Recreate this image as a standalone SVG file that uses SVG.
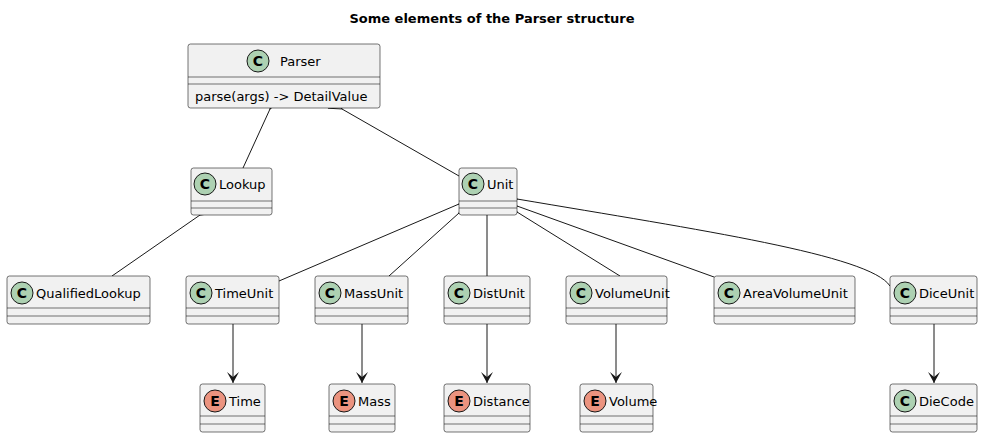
<svg xmlns="http://www.w3.org/2000/svg" width="985" height="438" viewBox="0 0 985 438">
<style>
.box{fill:#F1F1F1;stroke:#181818;stroke-width:0.6}
.sep{stroke:#181818;stroke-width:0.6}
.t{font-family:"DejaVu Sans",sans-serif;font-size:13px;fill:#000}
.ic{stroke:#181818;stroke-width:1}
.c{fill:#ADD1B2}.e{fill:#EB937F}
.il{font-family:"DejaVu Sans",sans-serif;font-size:14px;font-weight:bold;fill:#000;text-anchor:middle}
.ln{fill:none;stroke:#181818;stroke-width:1}
</style>
<defs>
<marker id="tri" markerWidth="14" markerHeight="14" refX="1" refY="7" orient="auto-start-reverse" markerUnits="userSpaceOnUse"><path d="M13,1 L1,7 L13,13 Z" fill="#fff" stroke="#181818" stroke-width="1"/></marker>
<marker id="arr" markerWidth="14" markerHeight="14" refX="12" refY="6" orient="auto" markerUnits="userSpaceOnUse"><path d="M1,0 L12,6 L1,12 L6,6 Z" fill="#181818"/></marker>
</defs>
<rect width="985" height="438" fill="#fff"/>
<text x="492" y="23" text-anchor="middle" style="font-family:'DejaVu Sans',sans-serif;font-size:13px;font-weight:bold">Some elements of the Parser structure</text>

<g id="connectors">
<line class="ln" x1="270" y1="109" x2="243" y2="168" marker-start="url(#tri)"/>
<line class="ln" x1="342" y1="109" x2="459" y2="176" marker-start="url(#tri)"/>
<line class="ln" x1="200" y1="215" x2="112" y2="276" marker-start="url(#tri)"/>
<line class="ln" x1="459" y1="204" x2="279" y2="281" marker-start="url(#tri)"/>
<line class="ln" x1="459" y1="213" x2="389" y2="276" marker-start="url(#tri)"/>
<line class="ln" x1="487" y1="215" x2="487" y2="276" marker-start="url(#tri)"/>
<line class="ln" x1="517" y1="212" x2="620" y2="276" marker-start="url(#tri)"/>
<line class="ln" x1="517" y1="206" x2="714" y2="277" marker-start="url(#tri)"/>
<path class="ln" d="M517,199 C700,230 870,255 890,286" marker-start="url(#tri)"/>
<line class="ln" x1="233" y1="324" x2="233" y2="383" marker-end="url(#arr)"/>
<line class="ln" x1="362" y1="324" x2="362" y2="383" marker-end="url(#arr)"/>
<line class="ln" x1="487" y1="324" x2="487" y2="383" marker-end="url(#arr)"/>
<line class="ln" x1="616" y1="324" x2="616" y2="383" marker-end="url(#arr)"/>
<line class="ln" x1="934" y1="324" x2="934" y2="383" marker-end="url(#arr)"/>
</g>

<g id="Parser">
<rect class="box" x="188" y="44" width="192" height="64" rx="2.5"/>
<line class="sep" x1="188" y1="77" x2="380" y2="77"/>
<line class="sep" x1="188" y1="84" x2="380" y2="84"/>
<circle class="ic c" cx="258" cy="61" r="11"/><text class="il" x="258" y="66">C</text>
<text class="t" x="280" y="66">Parser</text>
<text class="t" x="195" y="101">parse(args) -&gt; DetailValue</text>
</g>

<g id="Lookup">
<rect class="box" x="191" y="168" width="81" height="47" rx="2.5"/>
<line class="sep" x1="191" y1="201" x2="272" y2="201"/><line class="sep" x1="191" y1="208" x2="272" y2="208"/>
<circle class="ic c" cx="205" cy="184" r="11"/><text class="il" x="205" y="189">C</text>
<text class="t" x="219" y="189">Lookup</text>
</g>

<g id="Unit">
<rect class="box" x="459" y="168" width="58" height="47" rx="2.5"/>
<line class="sep" x1="459" y1="201" x2="517" y2="201"/><line class="sep" x1="459" y1="208" x2="517" y2="208"/>
<circle class="ic c" cx="473" cy="184" r="11"/><text class="il" x="473" y="189">C</text>
<text class="t" x="487" y="189">Unit</text>
</g>

<g id="QualifiedLookup">
<rect class="box" x="7" y="276" width="143" height="48" rx="2.5"/>
<line class="sep" x1="7" y1="308" x2="150" y2="308"/><line class="sep" x1="7" y1="316" x2="150" y2="316"/>
<circle class="ic c" cx="22" cy="293" r="11"/><text class="il" x="22" y="298">C</text>
<text class="t" x="36" y="298">QualifiedLookup</text>
</g>

<g id="TimeUnit">
<rect class="box" x="186" y="276" width="93" height="48" rx="2.5"/>
<line class="sep" x1="186" y1="308" x2="279" y2="308"/><line class="sep" x1="186" y1="316" x2="279" y2="316"/>
<circle class="ic c" cx="201" cy="293" r="11"/><text class="il" x="201" y="298">C</text>
<text class="t" x="215" y="298">TimeUnit</text>
</g>

<g id="MassUnit">
<rect class="box" x="315" y="276" width="93" height="48" rx="2.5"/>
<line class="sep" x1="315" y1="308" x2="408" y2="308"/><line class="sep" x1="315" y1="316" x2="408" y2="316"/>
<circle class="ic c" cx="330" cy="293" r="11"/><text class="il" x="330" y="298">C</text>
<text class="t" x="344" y="298">MassUnit</text>
</g>

<g id="DistUnit">
<rect class="box" x="444" y="276" width="86" height="48" rx="2.5"/>
<line class="sep" x1="444" y1="308" x2="530" y2="308"/><line class="sep" x1="444" y1="316" x2="530" y2="316"/>
<circle class="ic c" cx="459" cy="293" r="11"/><text class="il" x="459" y="298">C</text>
<text class="t" x="473" y="298">DistUnit</text>
</g>

<g id="VolumeUnit">
<rect class="box" x="566" y="276" width="101" height="48" rx="2.5"/>
<line class="sep" x1="566" y1="308" x2="667" y2="308"/><line class="sep" x1="566" y1="316" x2="667" y2="316"/>
<circle class="ic c" cx="581" cy="293" r="11"/><text class="il" x="581" y="298">C</text>
<text class="t" x="595" y="298">VolumeUnit</text>
</g>

<g id="AreaVolumeUnit">
<rect class="box" x="714" y="276" width="141" height="48" rx="2.5"/>
<line class="sep" x1="714" y1="308" x2="855" y2="308"/><line class="sep" x1="714" y1="316" x2="855" y2="316"/>
<circle class="ic c" cx="729" cy="293" r="11"/><text class="il" x="729" y="298">C</text>
<text class="t" x="743" y="298">AreaVolumeUnit</text>
</g>

<g id="DiceUnit">
<rect class="box" x="890" y="276" width="87" height="48" rx="2.5"/>
<line class="sep" x1="890" y1="308" x2="977" y2="308"/><line class="sep" x1="890" y1="316" x2="977" y2="316"/>
<circle class="ic c" cx="905" cy="293" r="11"/><text class="il" x="905" y="298">C</text>
<text class="t" x="919" y="298">DiceUnit</text>
</g>

<g id="Time">
<rect class="box" x="200" y="384" width="65" height="48" rx="2.5"/>
<line class="sep" x1="200" y1="416" x2="265" y2="416"/><line class="sep" x1="200" y1="424" x2="265" y2="424"/>
<circle class="ic e" cx="215" cy="401" r="11"/><text class="il" x="215" y="406">E</text>
<text class="t" x="229" y="406">Time</text>
</g>

<g id="Mass">
<rect class="box" x="329" y="384" width="66" height="48" rx="2.5"/>
<line class="sep" x1="329" y1="416" x2="395" y2="416"/><line class="sep" x1="329" y1="424" x2="395" y2="424"/>
<circle class="ic e" cx="344" cy="401" r="11"/><text class="il" x="344" y="406">E</text>
<text class="t" x="358" y="406">Mass</text>
</g>

<g id="Distance">
<rect class="box" x="444" y="384" width="86" height="48" rx="2.5"/>
<line class="sep" x1="444" y1="416" x2="530" y2="416"/><line class="sep" x1="444" y1="424" x2="530" y2="424"/>
<circle class="ic e" cx="459" cy="401" r="11"/><text class="il" x="459" y="406">E</text>
<text class="t" x="473" y="406">Distance</text>
</g>

<g id="Volume">
<rect class="box" x="580" y="384" width="73" height="48" rx="2.5"/>
<line class="sep" x1="580" y1="416" x2="653" y2="416"/><line class="sep" x1="580" y1="424" x2="653" y2="424"/>
<circle class="ic e" cx="595" cy="401" r="11"/><text class="il" x="595" y="406">E</text>
<text class="t" x="609" y="406">Volume</text>
</g>

<g id="DieCode">
<rect class="box" x="890" y="384" width="87" height="48" rx="2.5"/>
<line class="sep" x1="890" y1="416" x2="977" y2="416"/><line class="sep" x1="890" y1="424" x2="977" y2="424"/>
<circle class="ic c" cx="905" cy="401" r="11"/><text class="il" x="905" y="406">C</text>
<text class="t" x="919" y="406">DieCode</text>
</g>
</svg>
